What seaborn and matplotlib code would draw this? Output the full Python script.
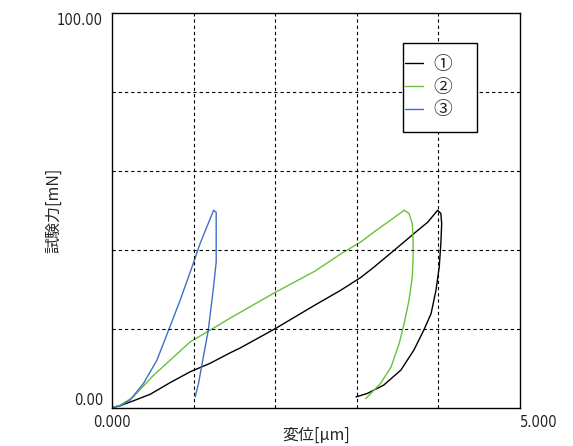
import numpy as np
import pandas as pd
import seaborn as sns
import matplotlib.pyplot as plt
from matplotlib.patches import Rectangle

# Indentation load-displacement curves (loading branch followed by unloading branch)
disp_1 = [0.00, 0.10, 0.26, 0.47, 0.71, 0.96, 1.20, 1.45, 1.57, 2.00, 2.48, 2.80, 3.05, 3.21,
          3.46, 3.70, 3.87, 3.99,
          4.03, 4.04, 4.03, 4.01, 3.97, 3.91, 3.82, 3.70, 3.54, 3.33, 3.13, 2.99]
load_1 = [0.0, 0.5, 1.7, 3.4, 6.3, 9.1, 11.2, 13.9, 15.1, 20.0, 25.9, 29.7, 33.0, 35.6,
          39.9, 44.1, 47.0, 50.0,
          49.2, 46.6, 41.6, 35.6, 29.7, 23.8, 19.6, 14.6, 9.5, 5.7, 3.6, 2.7]

disp_2 = [0.00, 0.10, 0.26, 0.50, 0.96, 1.20, 1.45, 2.00, 2.48, 2.80, 3.05, 3.21, 3.42, 3.58,
          3.64, 3.68, 3.69, 3.69, 3.68, 3.64, 3.58, 3.52, 3.42, 3.29, 3.11]
load_2 = [0.0, 0.6, 2.7, 8.0, 16.7, 19.6, 22.7, 29.2, 34.5, 38.9, 42.0, 44.5, 47.6, 50.0,
          49.2, 46.6, 42.4, 38.2, 33.1, 27.2, 21.3, 16.3, 10.3, 6.1, 2.3]

disp_3 = [0.00, 0.10, 0.22, 0.385, 0.55, 0.71, 0.835, 0.98, 1.08, 1.245,
          1.277, 1.277, 1.24, 1.18, 1.12, 1.06, 1.02]
load_3 = [0.0, 0.4, 1.9, 6.1, 12.0, 20.5, 27.2, 35.6, 41.6, 50.0,
          49.5, 36.9, 29.8, 19.6, 12.9, 6.1, 2.7]

sample_names = ["①", "②", "③"]
sample_colors = ["#000000", "#66c23a", "#3f6fc4"]

x_tick_labels = ["0.000", "5.000"]
y_tick_labels = ["0.00", "100.00"]
x_label = "変位[μm]"
y_label = "試験力[mN]"

frames = []
for name, d, l in zip(sample_names, [disp_1, disp_2, disp_3], [load_1, load_2, load_3]):
    frames.append(pd.DataFrame({"disp": d, "load": l, "sample": name,
                                "order": np.arange(len(d))}))
df = pd.concat(frames, ignore_index=True)

sns.set_style("white")
cjk_font = ["Noto Sans CJK JP", "DejaVu Sans"]
plt.rcParams["font.family"] = cjk_font
num_font = {"family": "DejaVu Sans", "stretch": "condensed", "size": 10.5, "color": "#222222"}

fig = plt.figure(figsize=(5.73, 4.46), dpi=100)
W, H = 573, 446
ax = fig.add_axes([112 / W, 1 - 407.6 / H, 408 / W, 394.6 / H])

sns.lineplot(data=df, x="disp", y="load", hue="sample", palette=sample_colors,
             sort=False, estimator=None, units="sample", linewidth=1.0,
             legend=False, ax=ax)
for line in ax.get_lines():
    line.set_solid_joinstyle("round")

ax.set_xlim(0, 5)
ax.set_ylim(0, 100)

# grid on minor positions, labels only at the ends
ax.set_xticks([1, 2, 3, 4], minor=True)
ax.set_yticks([20, 40, 60, 80], minor=True)
ax.grid(False)
ax.grid(True, which="minor", color="black", linestyle=(0, (3, 2.6)), linewidth=0.8)
ax.set_axisbelow(False)

ax.set_xticks([0, 5])
ax.set_xticklabels(x_tick_labels, fontdict=num_font)
ax.set_yticks([0, 100])
ax.set_yticklabels(y_tick_labels, fontdict=num_font)
ax.tick_params(which="both", length=0)
ax.tick_params(axis="x", pad=5)
ax.tick_params(axis="y", pad=6.5)
xl = ax.get_xticklabels()
xl[1].set_ha("left")
yl = ax.get_yticklabels()
yl[0].set_va("bottom")
yl[1].set_va("top")

for s in ax.spines.values():
    s.set_visible(True)
    s.set_color("black")
    s.set_linewidth(1.0)

ax.set_xlabel(x_label, fontsize=11.5)
ax.xaxis.set_label_coords(0.5, -0.048)
ax.set_ylabel(y_label, fontsize=11.5)
ax.yaxis.set_label_coords(-0.123, 0.5)

# legend box
ax.add_patch(Rectangle((0.7125, 0.699), 0.1825, 0.224, transform=ax.transAxes,
                       facecolor="white", edgecolor="black", linewidth=1.0, zorder=5))
handles = [plt.Line2D([], [], color=c, linewidth=1.0) for c in sample_colors]
leg = ax.legend(handles, sample_names, loc="upper left", bbox_to_anchor=(0.719, 0.897),
                frameon=False, handlelength=0.96, handletextpad=0.53,
                labelspacing=0.1, borderpad=0.0, borderaxespad=0.0,
                prop={"family": cjk_font, "size": 13.5})
leg.set_zorder(6)

fig.savefig("out.png", dpi=100, facecolor="white")
